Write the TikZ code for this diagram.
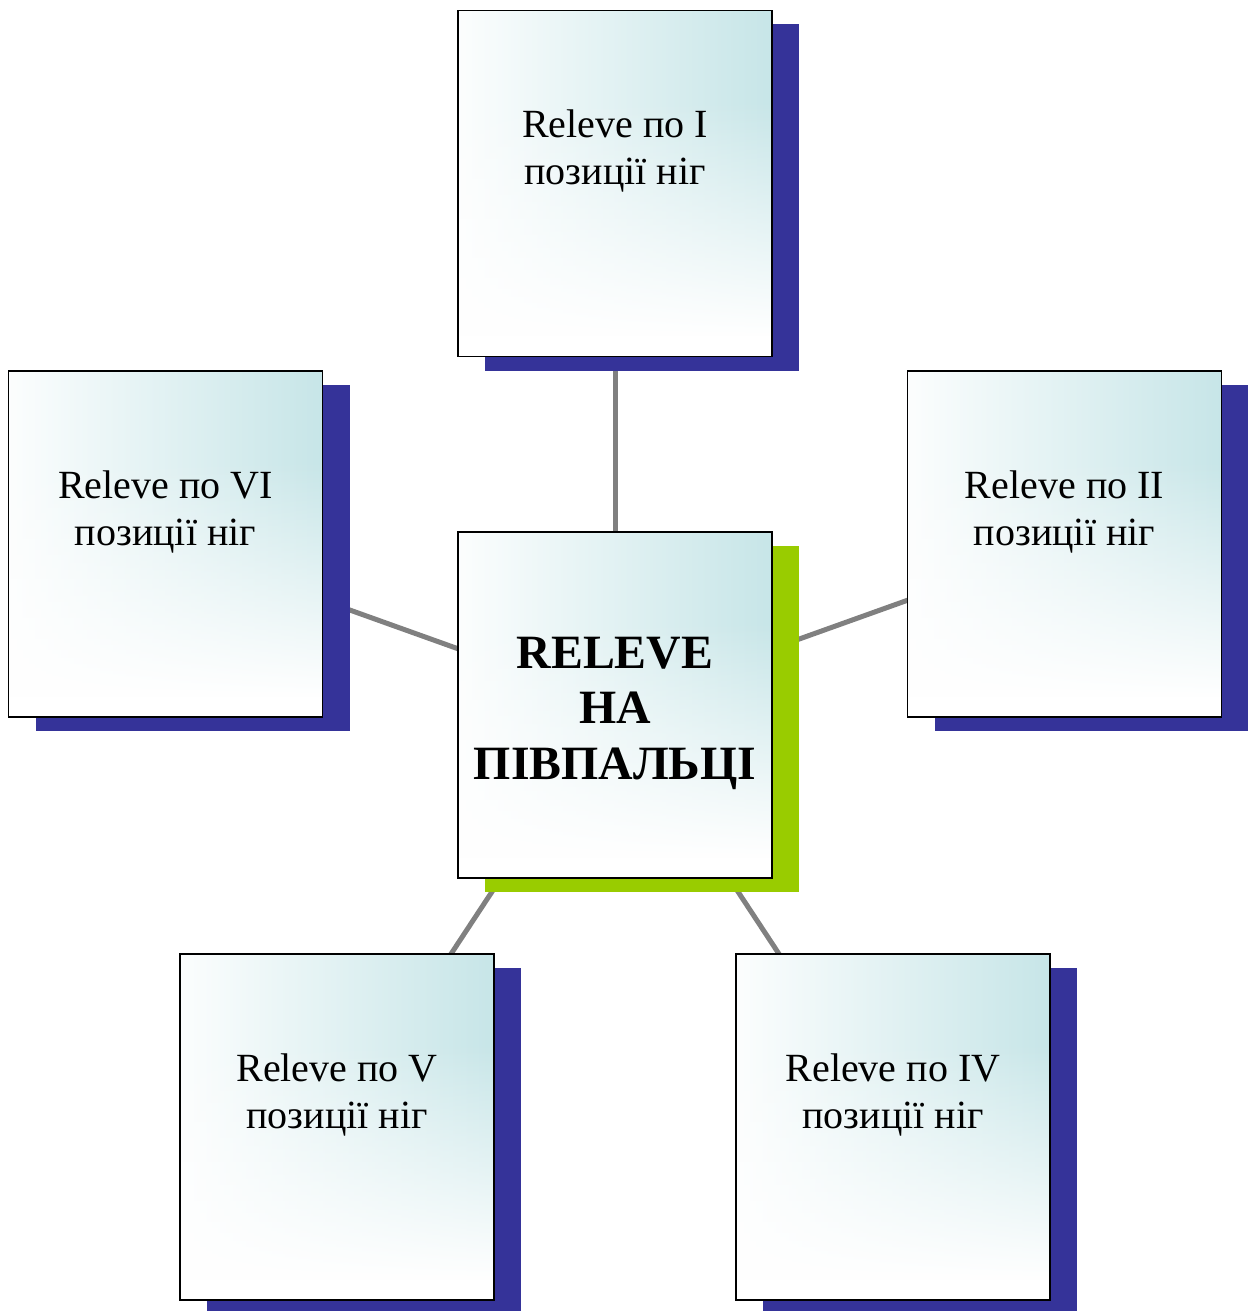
\documentclass[tikz,border=0pt]{standalone}
\usepackage{fontspec}
\setmainfont{Liberation Serif}
\usetikzlibrary{shadows,backgrounds,fadings}

\definecolor{glow}{RGB}{183,222,225}
\definecolor{shadowblue}{RGB}{53,51,153}
\definecolor{shadowgreen}{RGB}{153,204,0}
\definecolor{linkgray}{RGB}{128,128,128}

% left-to-right teal wash
\pgfdeclarehorizontalshading{glowx}{100bp}{%
  color(0bp)=(white); color(22bp)=(white); color(90bp)=(glow); color(100bp)=(glow)}
% white veil rising from the bottom edge
\pgfdeclareverticalshading{veilshade}{100bp}{%
  color(0bp)=(white); color(28bp)=(white); color(62bp)=(black); color(100bp)=(black)}
\pgfdeclarefading{bottomveil}{\pgfuseshading{veilshade}}

\begin{document}
\begin{tikzpicture}[x=1pt,y=-1pt,
  panel/.style={rectangle, draw=black, line width=1.8pt,
    minimum width=314pt, minimum height=346pt, inner sep=0pt,
    path picture={
      \shade[shading=glowx]
        (path picture bounding box.south west) rectangle
        (path picture bounding box.north east);
      \fill[white, path fading=bottomveil]
        (path picture bounding box.south west) rectangle
        (path picture bounding box.north east);
    }},
  blueshadow/.style={drop shadow={shadow xshift=27pt, shadow yshift=-14pt,
    fill=shadowblue, opacity=1}},
  greenshadow/.style={drop shadow={shadow xshift=27pt, shadow yshift=-14pt,
    fill=shadowgreen, opacity=1}},
  caption/.style={font=\fontsize{40}{47}\selectfont, align=center,
    anchor=base, inner sep=0pt},
  title/.style={font=\bfseries\fontsize{47.8}{55.5}\selectfont, align=center,
    anchor=base, inner sep=0pt},
  link/.style={draw=linkgray, line width=5pt}]

\useasboundingbox (0,0) rectangle (1247,1311);

% boxes
\node[panel, greenshadow] (c)  at (615,705)   {};
\node[panel, blueshadow]  (p1) at (615,183.5) {};
\node[panel, blueshadow]  (p2) at (1064.5,544) {};
\node[panel, blueshadow]  (p4) at (893,1127)  {};
\node[panel, blueshadow]  (p5) at (337,1127)  {};
\node[panel, blueshadow]  (p6) at (165.5,544) {};

% labels (anchored on the baseline of their last line)
\node[title]   (ct) at ([yshift=-248pt]c.north)  {RELEVE\\НА\\ПІВПАЛЬЦІ};
\node[caption] (t1) at ([yshift=-175pt]p1.north) {Releve по I\\позиції ніг};
\node[caption] (t2) at ([yshift=-175pt]p2.north) {Releve по II\\позиції ніг};
\node[caption] (t4) at ([yshift=-175pt]p4.north) {Releve по IV\\позиції ніг};
\node[caption] (t5) at ([yshift=-175pt]p5.north) {Releve по V\\позиції ніг};
\node[caption] (t6) at ([yshift=-175pt]p6.north) {Releve по VI\\позиції ніг};

% spokes, behind boxes and shadows
\begin{pgfonlayer}{background}
  \draw[link] (c.center) -- (p1.center);
  \draw[link] (c.center) -- (p2.center);
  \draw[link] (c.center) -- (p4.center);
  \draw[link] (c.center) -- (p5.center);
  \draw[link] (c.center) -- (p6.center);
\end{pgfonlayer}
\end{tikzpicture}
\end{document}
